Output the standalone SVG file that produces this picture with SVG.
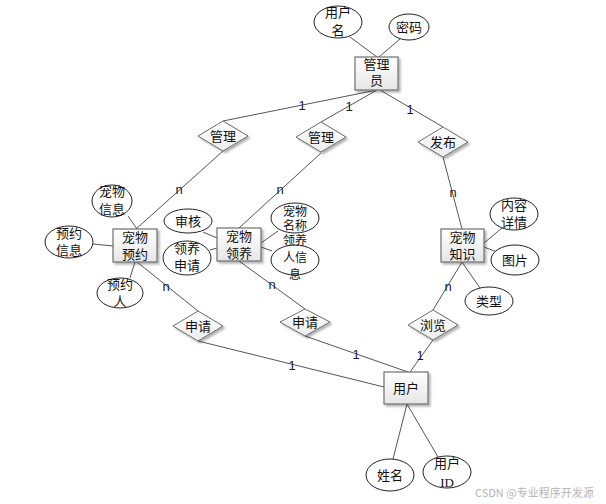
<svg xmlns="http://www.w3.org/2000/svg" width="606" height="504" viewBox="0 0 606 504">
<defs>
<linearGradient id="gBox" x1="0" y1="0" x2="0" y2="1"><stop offset="0" stop-color="#ffffff"/><stop offset="1" stop-color="#e6e6e6"/></linearGradient>
<linearGradient id="gDia" x1="0" y1="0" x2="0" y2="1"><stop offset="0" stop-color="#ffffff"/><stop offset="1" stop-color="#ececec"/></linearGradient>
<filter id="sh" x="-20%" y="-20%" width="150%" height="150%"><feDropShadow dx="2" dy="2" stdDeviation="1" flood-color="#000" flood-opacity="0.3"/></filter>
</defs>
<style>
.box{fill:url(#gBox);stroke:#6e6e6e;stroke-width:1.2;filter:url(#sh)}
.dia{fill:url(#gDia);stroke:#6e6e6e;stroke-width:1;filter:url(#sh)}
.ell{fill:#fff;stroke:#222;stroke-width:1}
.ln{stroke:#555;stroke-width:1;fill:none}
text{font-family:"Noto Sans CJK SC","Liberation Sans",sans-serif;font-size:13px;fill:#111;text-anchor:middle}
.sm{font-size:12px}
.lab{font-family:"Liberation Sans",sans-serif;font-size:13px;fill:#1a1a3a}
.wm{font-size:11px;fill:#b5b5b5;text-anchor:start}
</style>
<rect width="606" height="504" fill="#fff"/>
<g id="connectors">
<line class="ln" x1="350" y1="37" x2="377" y2="57"/>
<line class="ln" x1="400" y1="39" x2="379" y2="57"/>
<line class="ln" x1="377" y1="90" x2="223" y2="121"/>
<line class="ln" x1="377" y1="90" x2="321" y2="122"/>
<line class="ln" x1="380" y1="90" x2="443" y2="127"/>
<line class="ln" x1="223" y1="151" x2="136" y2="229"/>
<line class="ln" x1="321" y1="153" x2="239" y2="228"/>
<line class="ln" x1="443" y1="157" x2="462" y2="229"/>
<line class="ln" x1="128" y1="216" x2="137" y2="229"/>
<line class="ln" x1="93" y1="244" x2="113" y2="246"/>
<line class="ln" x1="130" y1="278" x2="135" y2="262"/>
<line class="ln" x1="137" y1="262" x2="198" y2="311"/>
<line class="ln" x1="198" y1="341" x2="384" y2="387"/>
<line class="ln" x1="203" y1="232" x2="217" y2="238"/>
<line class="ln" x1="210" y1="250" x2="217" y2="248"/>
<line class="ln" x1="261" y1="243" x2="278" y2="231"/>
<line class="ln" x1="261" y1="247" x2="272" y2="251"/>
<line class="ln" x1="239" y1="261" x2="305" y2="309"/>
<line class="ln" x1="305" y1="336" x2="408" y2="372"/>
<line class="ln" x1="484" y1="243" x2="502" y2="228"/>
<line class="ln" x1="484" y1="247" x2="497" y2="252"/>
<line class="ln" x1="462" y1="262" x2="480" y2="288"/>
<line class="ln" x1="462" y1="262" x2="433" y2="310"/>
<line class="ln" x1="433" y1="340" x2="410" y2="372"/>
<line class="ln" x1="407" y1="404" x2="393" y2="459"/>
<line class="ln" x1="407" y1="404" x2="438" y2="457"/>
<text class="lab" x="302" y="110">1</text>
<text class="lab" x="349" y="111">1</text>
<text class="lab" x="410" y="114">1</text>
<text class="lab" x="179" y="194">n</text>
<text class="lab" x="280" y="194">n</text>
<text class="lab" x="453" y="197">n</text>
<text class="lab" x="166" y="291">n</text>
<text class="lab" x="272" y="289">n</text>
<text class="lab" x="448" y="291">n</text>
<text class="lab" x="292" y="370">1</text>
<text class="lab" x="356" y="359">1</text>
<text class="lab" x="420" y="360">1</text>
</g>
<g id="admin"><rect class="box" x="355" y="57" width="43" height="33"/><text x="376.5" y="69">管理<tspan x="376.5" y="85">员</tspan></text></g>
<g id="username"><ellipse class="ell" cx="338" cy="22" rx="24" ry="16"/><text x="338" y="17">用户<tspan x="338" y="35">名</tspan></text></g>
<g id="password"><ellipse class="ell" cx="409" cy="27" rx="20" ry="13"/><text x="409" y="32">密码</text></g>
<g id="manage1"><polygon class="dia" points="223,121 248,136 223,151 198,136"/><text x="223" y="141">管理</text></g>
<g id="manage2"><polygon class="dia" points="321,122 346,137 321,152 296,137"/><text x="321" y="142">管理</text></g>
<g id="publish"><polygon class="dia" points="443,127 468,142 443,157 418,142"/><text x="443" y="147">发布</text></g>
<g id="reserve"><rect class="box" x="113" y="229" width="44" height="33"/><text x="135" y="242">宠物<tspan x="135" y="259">预约</tspan></text></g>
<g id="petinfo"><ellipse class="ell" cx="112" cy="201" rx="20" ry="16"/><text x="112" y="196">宠物<tspan x="112" y="214">信息</tspan></text></g>
<g id="resinfo"><ellipse class="ell" cx="69" cy="242" rx="24" ry="16"/><text x="69" y="238">预约<tspan x="69" y="255">信息</tspan></text></g>
<g id="resperson"><ellipse class="ell" cx="120" cy="293" rx="23" ry="15"/><text x="120" y="289">预约<tspan x="120" y="306">人</tspan></text></g>
<g id="adopt"><rect class="box" x="217" y="228" width="44" height="33"/><text x="239" y="241">宠物<tspan x="239" y="258">领养</tspan></text></g>
<g id="audit"><ellipse class="ell" cx="188" cy="221" rx="24" ry="12"/><text x="188" y="226">审核</text></g>
<g id="adoptapply"><ellipse class="ell" cx="187" cy="258" rx="24" ry="17"/><text x="187" y="253">领养<tspan x="187" y="270">申请</tspan></text></g>
<g id="petname"><ellipse class="ell" cx="295" cy="218" rx="24" ry="15"/><text class="sm" x="295" y="216">宠物<tspan x="295" y="230">名称</tspan></text></g>
<g id="adopterinfo"><ellipse class="ell" cx="295" cy="260" rx="24" ry="15"/><text class="sm" x="295" y="245">领养<tspan x="295" y="262">人信</tspan><tspan x="295" y="279">息</tspan></text></g>
<g id="knowledge"><rect class="box" x="441" y="229" width="43" height="33"/><text x="462.5" y="242">宠物<tspan x="462.5" y="259">知识</tspan></text></g>
<g id="content"><ellipse class="ell" cx="514" cy="214" rx="24" ry="16"/><text x="514" y="210">内容<tspan x="514" y="227">详情</tspan></text></g>
<g id="picture"><ellipse class="ell" cx="515" cy="260" rx="24" ry="15"/><text x="515" y="265">图片</text></g>
<g id="type"><ellipse class="ell" cx="489" cy="301" rx="24" ry="14"/><text x="489" y="306">类型</text></g>
<g id="apply1"><polygon class="dia" points="198,311 223,326 198,341 173,326"/><text x="198" y="331">申请</text></g>
<g id="apply2"><polygon class="dia" points="305,309 330,322 305,336 280,322"/><text x="305" y="327">申请</text></g>
<g id="browse"><polygon class="dia" points="433,310 458,325 433,340 408,325"/><text x="433" y="330">浏览</text></g>
<g id="user"><rect class="box" x="384" y="372" width="44" height="32"/><text x="406" y="393">用户</text></g>
<g id="name"><ellipse class="ell" cx="390" cy="475" rx="24" ry="16"/><text x="390" y="480">姓名</text></g>
<g id="userid"><ellipse class="ell" cx="447" cy="472" rx="24" ry="16"/><text x="447" y="468">用户<tspan x="447" y="487" style="font-family:'Liberation Serif',serif">ID</tspan></text></g>
<text class="wm" x="475" y="497">CSDN @专业程序开发源</text>
</svg>
